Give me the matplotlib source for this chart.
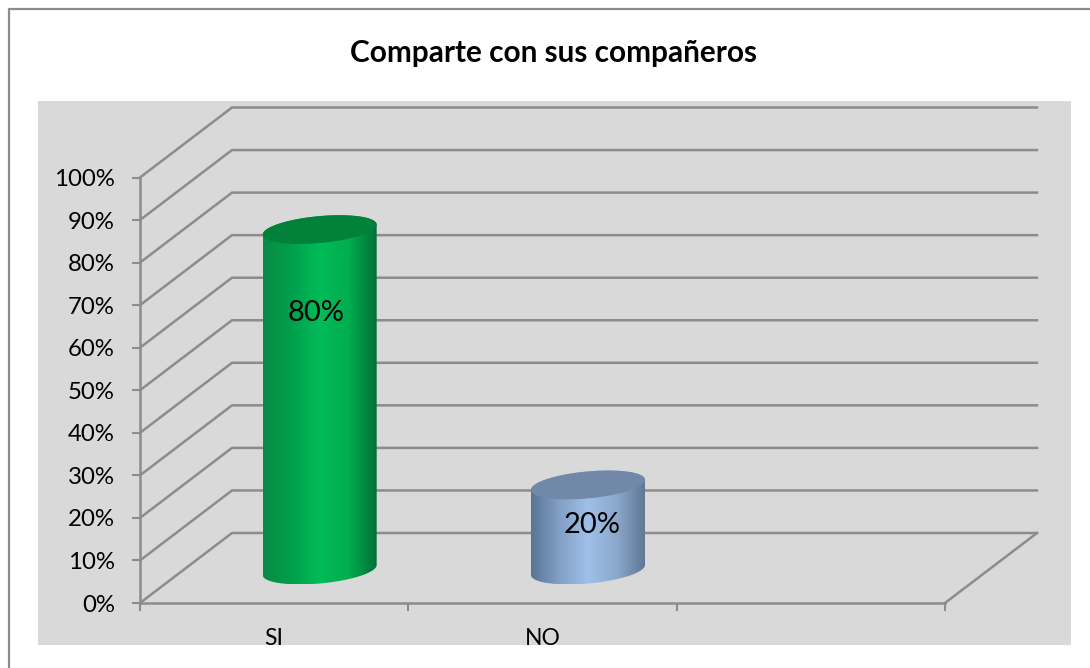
import numpy as np
import matplotlib
matplotlib.use('Agg')
import matplotlib.pyplot as plt
from matplotlib.colors import LinearSegmentedColormap
from matplotlib.lines import Line2D
from matplotlib.patches import Polygon, Rectangle

# Chart data
categories = ['SI', 'NO', '']
values = [80, 20]
value_labels = ['80%', '20%']
y_ticks = [0, 10, 20, 30, 40, 50, 60, 70, 80, 90, 100]
title = 'Comparte con sus compañeros'

# Colours
green_stops = ['#0a8a45', '#00a04d', '#00bc57', '#00ae50', '#006f36']
green_top = '#018139'
blue_stops = ['#587593', '#83a0c6', '#9fc0e8', '#8ca8cc', '#5f7894']
blue_top = '#7288a8'
line_color = '#8c8c8c'

W, H = 1090, 668
plt.rcParams['font.family'] = ['Lato', 'DejaVu Sans']

fig = plt.figure(figsize=(W / 100, H / 100), dpi=100, facecolor='white')

def fx(x):
    return x / W

def fy(y):
    return 1 - y / H

# Outer frame (top and left only are visible) and grey panel
fig.add_artist(Line2D([fx(9), fx(9), fx(W)], [fy(H), fy(9), fy(9)], color='#8c8c8c', lw=1.6, zorder=-2))
panel = Rectangle((fx(38), fy(645)), fx(1071 - 38), 544 / H, transform=fig.transFigure,
                  facecolor='#d9d9d9', edgecolor='none', zorder=-1)
fig.add_artist(panel)

fig.text(fx(554), fy(53), title, ha='center', va='center', fontsize=21.4, fontweight='bold', color='black')

# Axes is the front plane of the 3D box
ax = fig.add_axes([fx(140), fy(603), fx(945 - 140), (603 - 177.5) / H])
ax.patch.set_visible(False)
ax.set_xlim(0, 3)
ax.set_ylim(0, 100)

px_x = 805 / 3      # pixels per category
px_y = 425.5 / 100  # pixels per percent
depth_x = 92 / px_x
depth_y = 70 / px_y

# Gridlines running up the side wall and along the back wall
for v in y_ticks:
    ax.plot([0, depth_x, 3 + depth_x], [v, v + depth_y, v + depth_y], color=line_color, lw=1.8,
            clip_on=False, zorder=1, solid_joinstyle='miter')
ax.plot([3, 3 + depth_x], [0, depth_y], color=line_color, lw=1.8, clip_on=False, zorder=1)

# Cylinders
half_w = 57 / px_x
cyl_b = 13.5 / px_y
cyl_shear = 5 / px_y
offset_x = 45.5 / px_x
offset_y = 33 / px_y
label_dx = [-4 / px_x, 4 / px_x]
label_offsets = [257 / px_y, 45 / px_y]  # label height above cylinder base

def ring(cx, cy, t):
    return cx + half_w * np.cos(t), cy + cyl_shear * np.cos(t) + cyl_b * np.sin(t)

def draw_cylinder(i, value, stops, top_color, label, label_h, dx):
    cx = i + 0.5 + offset_x
    base = offset_y
    top = base + value

    t_low = np.linspace(np.pi, 2 * np.pi, 60)
    t_up = np.linspace(0, np.pi, 60)
    bx, by = ring(cx, base, t_low)
    tx, ty = ring(cx, top, t_up)
    outline = np.column_stack([np.r_[bx, tx], np.r_[by, ty]])
    clip = Polygon(outline, closed=True, transform=ax.transData, facecolor='none', edgecolor='none')
    ax.add_patch(clip)

    cmap = LinearSegmentedColormap.from_list('cyl', stops)
    grad = np.linspace(0, 1, 256).reshape(1, -1)
    im = ax.imshow(grad, cmap=cmap, extent=[cx - half_w, cx + half_w, by.min(), ty.max()],
                   aspect='auto', zorder=3, interpolation='bilinear')
    im.set_clip_path(clip)

    t_all = np.linspace(0, 2 * np.pi, 120)
    ex, ey = ring(cx, top, t_all)
    ax.fill(ex, ey, color=top_color, zorder=4, clip_on=False, lw=0)

    ax.text(cx + dx, base + label_h, label, ha='center', va='center', fontsize=21, color='black', zorder=5)

draw_cylinder(0, values[0], green_stops, green_top, value_labels[0], label_offsets[0], label_dx[0])
draw_cylinder(1, values[1], blue_stops, blue_top, value_labels[1], label_offsets[1], label_dx[1])
ax.set_xlim(0, 3)
ax.set_ylim(0, 100)

# Axes, ticks, labels
for side in ['top', 'right']:
    ax.spines[side].set_visible(False)
for side in ['left', 'bottom']:
    ax.spines[side].set_color(line_color)
    ax.spines[side].set_linewidth(1.8)
    ax.spines[side].set_zorder(2)

ax.set_yticks(y_ticks)
ax.set_yticklabels([f'{v}%' for v in y_ticks])
ax.tick_params(axis='y', length=6, width=1.5, color=line_color, labelsize=17.3, labelcolor='black', pad=12)
ax.set_xticks([0, 1, 2, 3])
ax.set_xticklabels([])
ax.tick_params(axis='x', which='major', length=6, width=1.5, color=line_color)
ax.set_xticks([0.5, 1.5, 2.5], minor=True)
ax.set_xticklabels(categories, minor=True)
ax.tick_params(axis='x', which='minor', length=0, labelsize=16.5, labelcolor='black', pad=18)
for lab in ax.get_xticklabels(minor=True):
    lab.set_clip_box(panel.get_window_extent())
    lab.set_clip_on(True)

fig.savefig('out.png', dpi=100)
